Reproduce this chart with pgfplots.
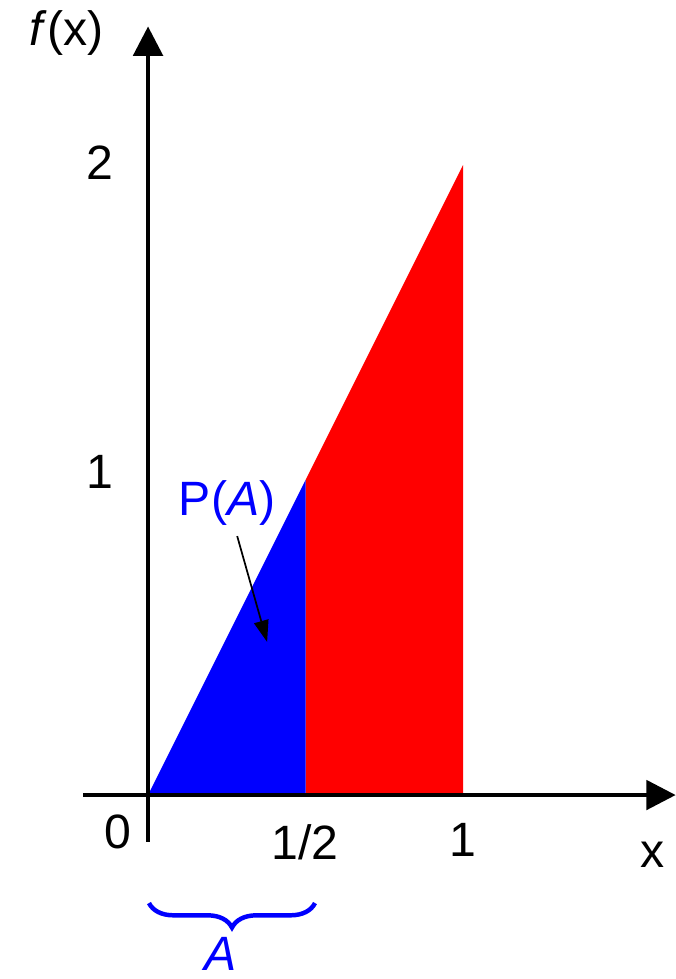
\documentclass[border=0pt]{standalone}
\usepackage{pgfplots}
\pgfplotsset{compat=1.18}
\usepackage{fontspec}
\setmainfont{Liberation Sans}
\usetikzlibrary{arrows.meta,decorations.pathreplacing}

\begin{document}
\begin{tikzpicture}
\begin{axis}[
    width=6.895cm, height=10cm, scale only axis,
    xmin=-0.47, xmax=1.673, ymin=-0.584, ymax=2.524,
    hide axis, clip=false,
]
% density f(x)=2x on [0,1]: area up to 1/2 in blue, rest in red
\addplot[fill=red, draw=none] coordinates {(0.5,0) (0.5,1) (1,2) (1,0)} --cycle;
\addplot[fill=blue, draw=none] coordinates {(0,0) (0.5,1) (0.5,0)} --cycle;

% axes
\draw[line width=1.2pt, -{Triangle[length=0.3cm,width=0.3cm]}]
    (axis cs:-0.206,0) -- (axis cs:1.675,0);
\draw[line width=1.2pt, -{Triangle[length=0.3cm,width=0.3cm]}]
    (axis cs:0,-0.149) -- (axis cs:0,2.44);

\begin{scope}[font=\fontsize{14}{16}\selectfont]
\node at (axis cs:-0.095,-0.117) {0};
\node at (axis cs:0.498,-0.149) {1/2};
\node at (axis cs:1.0,-0.143) {1};
\node at (axis cs:1.6,-0.19) {x};
\node at (axis cs:-0.152,2.006) {2};
\node at (axis cs:-0.152,1.025) {1};
\node at (axis cs:-0.258,2.42) {\textit{f}(x)};
\node[text=blue] at (axis cs:0.251,0.927) {P(\textit{A})};
\node[text=blue, inner sep=1pt] at (axis cs:0.229,-0.505) {\textit{A}};
\end{scope}

\draw[line width=0.5pt, -{Triangle[length=0.22cm,width=0.15cm]}]
    (axis cs:0.283,0.822) -- (axis cs:0.378,0.486);

\draw[blue, line width=1.3pt, decorate,
      decoration={brace, mirror, amplitude=0.25cm}]
    (axis cs:0.003,-0.343) -- (axis cs:0.53,-0.343);
\end{axis}
\pgfresetboundingbox
\path (current axis.south west) rectangle (current axis.north east);
\end{tikzpicture}
\end{document}
